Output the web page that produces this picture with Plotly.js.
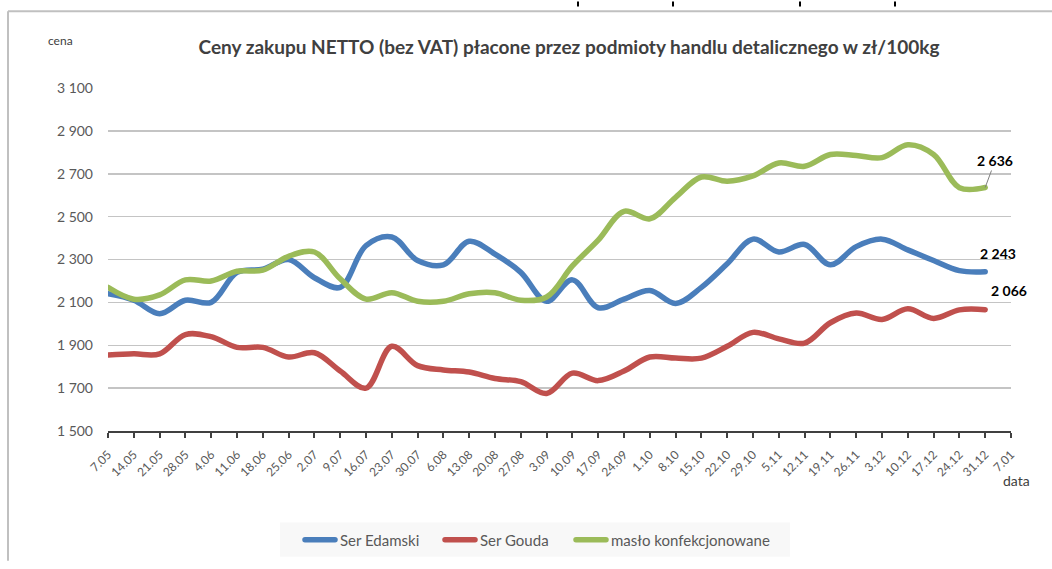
<!DOCTYPE html>
<html>
<head>
<meta charset="utf-8">
<script src="https://cdn.plot.ly/plotly-3.0.1.min.js"></script>
<style>
html,body{margin:0;padding:0;background:#fff;}
#chart{width:1052px;height:569px;}
.js-line{stroke-linecap:round;stroke-linejoin:round;}
</style>
</head>
<body>
<div id="chart"></div>
<script>
const dates = ["7.05","14.05","21.05","28.05","4.06","11.06","18.06","25.06","2.07","9.07","16.07","23.07","30.07","6.08","13.08","20.08","27.08","3.09","10.09","17.09","24.09","1.10","8.10","15.10","22.10","29.10","5.11","12.11","19.11","26.11","3.12","10.12","17.12","24.12","31.12","7.01"];
const edamski = [2140,2110,2047,2110,2100,2240,2255,2300,2215,2170,2365,2405,2295,2275,2385,2325,2240,2105,2205,2075,2115,2155,2095,2170,2280,2395,2335,2370,2275,2360,2395,2345,2295,2248,2243];
const gouda = [1855,1860,1860,1950,1940,1890,1890,1845,1865,1780,1700,1895,1805,1785,1775,1745,1730,1675,1770,1735,1780,1845,1840,1840,1895,1960,1930,1910,2005,2050,2020,2070,2025,2065,2066];
const maslo = [2170,2115,2135,2205,2200,2245,2250,2315,2335,2210,2115,2145,2105,2105,2140,2145,2110,2125,2270,2390,2525,2490,2590,2685,2665,2690,2750,2735,2790,2785,2775,2835,2790,2635,2636];
const yTicks = [1500,1700,1900,2100,2300,2500,2700,2900,3100];
const yTickText = ["1 500","1 700","1 900","2 100","2 300","2 500","2 700","2 900","3 100"];
const seriesNames = ["Ser Edamski","Ser Gouda","masło konfekcjonowane"];
const endLabels = ["2 243","2 066","2 636"];

const L=108, R=1011, T=88, B=437;
const px = x => (x-L)/(R-L);
const py = y => (B-y)/(B-T);
const FONT = "Lato, 'Open Sans', sans-serif";

function tr(name, y, color, lg){
  return {type:'scatter', mode:'lines', name:name, x:dates.slice(0,y.length), y:y, legend:lg,
    line:{color:color, width:5.5, shape:'spline', smoothing:1}, hoverinfo:'skip'};
}
const data = [
  tr(seriesNames[0], edamski, '#4A7EBB', 'legend'),
  tr(seriesNames[1], gouda, '#C0504D', 'legend2'),
  tr(seriesNames[2], maslo, '#9BBB59', 'legend3')
];
function lg(x){
  return {orientation:'h', x:px(x), xanchor:'left', y:py(548), yanchor:'middle',
    bgcolor:'rgba(0,0,0,0)', font:{size:15, color:'#595959', family:FONT}};
}
const lastIdx = edamski.length-1;
const layout = {
  width:1052, height:569,
  margin:{l:L, r:1052-R, t:T, b:569-B, pad:0},
  paper_bgcolor:'#fff', plot_bgcolor:'#fff',
  font:{family:FONT, color:'#595959'},
  title:{text:'Ceny zakupu NETTO (bez VAT) płacone przez podmioty handlu detalicznego w zł/100kg',
    font:{family:FONT, size:19, color:'#404040', weight:'bold'},
    x:569/1052, xref:'container', xanchor:'center', y:1-47/569, yref:'container', yanchor:'middle'},
  xaxis:{type:'category', categoryorder:'array', categoryarray:dates, tickvals:dates, ticktext:dates,
    range:[0, dates.length-1], tickangle:-45, tickfont:{size:12, color:'#595959'},
    showgrid:false, showline:true, linecolor:'#404040', linewidth:2, ticklabelstandoff:5,
    ticks:'outside', ticklen:5, tickcolor:'#404040', tickwidth:2, zeroline:false, fixedrange:true},
  yaxis:{range:[1500,3100], tickvals:yTicks, ticktext:yTickText, tickfont:{size:14, color:'#595959'},
    showgrid:true, gridcolor:'#c4c4c4', gridwidth:1.5, zeroline:false, showline:false,
    ticks:'', ticklabelstandoff:14, fixedrange:true},
  showlegend:true,
  legend:lg(300), legend2:lg(440), legend3:lg(571),
  shapes:[
    {type:'rect', xref:'paper', yref:'paper', x0:px(280), x1:px(790), y0:py(530), y1:py(565),
      fillcolor:'#f8f8f8', line:{width:0}, layer:'below'},
    {type:'line', xref:'paper', yref:'paper', x0:px(8), x1:px(1052), y0:py(10), y1:py(10), line:{color:'#c0c0c0', width:2}},
    {type:'line', xref:'paper', yref:'paper', x0:px(8), x1:px(8), y0:py(10), y1:py(569), line:{color:'#c0c0c0', width:2}},
    {type:'line', xref:'paper', yref:'paper', x0:px(578), x1:px(578), y0:py(0), y1:py(5), line:{color:'#000', width:2}},
    {type:'line', xref:'paper', yref:'paper', x0:px(673), x1:px(673), y0:py(0), y1:py(5), line:{color:'#000', width:2}},
    {type:'line', xref:'paper', yref:'paper', x0:px(800), x1:px(800), y0:py(0), y1:py(5), line:{color:'#000', width:2}},
    {type:'line', xref:'paper', yref:'paper', x0:px(895), x1:px(895), y0:py(0), y1:py(5), line:{color:'#000', width:2}}
  ],
  annotations:[
    {xref:'paper', yref:'paper', x:px(60), y:py(40), text:'cena', showarrow:false,
      font:{size:12, color:'#404040', family:FONT}, xanchor:'center', yanchor:'middle'},
    {xref:'paper', yref:'paper', x:px(1016), y:py(487), text:'data', showarrow:false,
      font:{size:14, color:'#404040', family:FONT}, xanchor:'center', yanchor:'middle'},
    {x:lastIdx, y:maslo[lastIdx], text:'<b>'+endLabels[2]+'</b>', showarrow:true, arrowhead:0,
      arrowcolor:'#808080', arrowwidth:1, ax:10, ay:-27, standoff:0, font:{size:14, color:'#000', family:FONT}},
    {x:lastIdx, y:edamski[lastIdx], text:'<b>'+endLabels[0]+'</b>', showarrow:false, xshift:13, yshift:18,
      font:{size:14, color:'#000', family:FONT}},
    {x:lastIdx, y:gouda[lastIdx], text:'<b>'+endLabels[1]+'</b>', showarrow:false, xshift:24, yshift:19,
      font:{size:14, color:'#000', family:FONT}}
  ]
};
Plotly.newPlot('chart', data, layout, {displayModeBar:false, staticPlot:true});
</script>
</body>
</html>
